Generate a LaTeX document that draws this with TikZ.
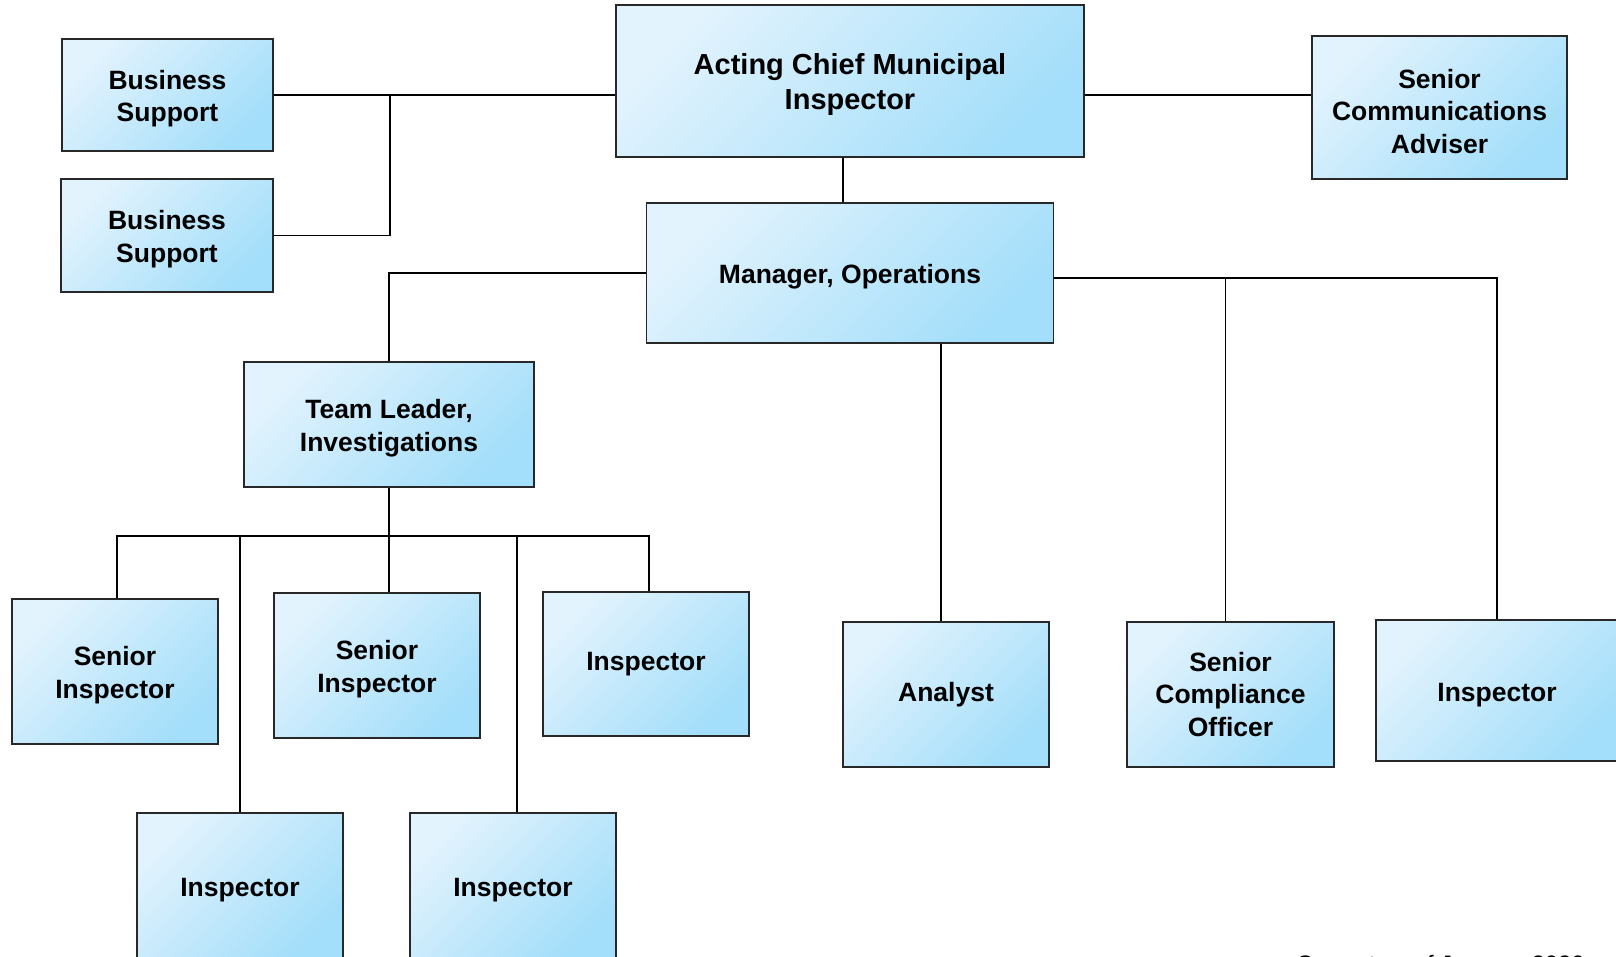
\documentclass[tikz,border=0pt]{standalone}
\usepackage{fontspec}
\setmainfont{Liberation Sans}
\usetikzlibrary{calc}
\definecolor{boxlight}{RGB}{226,243,253}
\definecolor{boxdark}{RGB}{163,222,250}
\definecolor{boxline}{RGB}{40,40,40}
% taller first line, so the text sits a little low in its box
\newcommand{\lowline}{\rule{0pt}{1em}}

\tikzset{
	orgbox/.style={draw=boxline, line width=1.2pt,
		top color=boxlight, bottom color=boxdark, shading angle=45,
		align=center, inner sep=0pt,
		font=\bfseries\fontsize{26.5}{32.5}\selectfont},
	link/.style={black, line width=1.2pt}
}

\begin{document}
\begin{tikzpicture}[x=1pt,y=-1pt]
	\useasboundingbox (0,0) rectangle (1616,957);

	% Top row
	\node[orgbox, minimum width=211pt, minimum height=112pt] (bsa) at (167.5,95) {\lowline Business\\Support};
	\node[orgbox, minimum width=212pt, minimum height=113pt] (bsb) at (167,235.5) {\lowline Business\\Support};
	\node[orgbox, minimum width=468pt, minimum height=152pt,
		font=\bfseries\fontsize{29}{35}\selectfont] (chief) at (850,81) {\lowline Acting Chief Municipal\\Inspector};
	\node[orgbox, minimum width=255pt, minimum height=143pt] (comm) at (1439.5,107.5) {\lowline Senior\\Communications\\Adviser};

	% Second level
	\node[orgbox, minimum width=407pt, minimum height=140pt] (mgr) at (850,273) {\lowline Manager, Operations};
	\node[orgbox, minimum width=290pt, minimum height=125pt] (tl) at (389,424.5) {\lowline Team Leader,\\Investigations};

	% Investigations team
	\node[orgbox, minimum width=206pt, minimum height=145pt] (sia) at (115,671.5) {\lowline Senior\\Inspector};
	\node[orgbox, minimum width=206pt, minimum height=145pt] (sib) at (377,665.5) {\lowline Senior\\Inspector};
	\node[orgbox, minimum width=206pt, minimum height=144pt] (insc) at (646,664) {Inspector};
	\node[orgbox, minimum width=206pt, minimum height=146pt] (insa) at (240,886) {\lowline Inspector};
	\node[orgbox, minimum width=206pt, minimum height=146pt] (insb) at (513,886) {\lowline Inspector};

	% Operations staff
	\node[orgbox, minimum width=206pt, minimum height=145pt] (an) at (946,694.5) {Analyst};
	\node[orgbox, minimum width=207pt, minimum height=145pt] (sco) at (1230.5,694.5) {Senior\\Compliance\\Officer};
	\node[orgbox, minimum width=242pt, minimum height=141pt] (insd) at (1497,690.5) {\lowline Inspector};

	% Staff lines
	\coordinate (staffx) at (390,0);
	\draw[link] (bsa.east) -- (bsa.east -| chief.west);
	\draw[link] (bsb.east) -| (staffx |- bsa.east);
	\draw[link] (chief.east |- bsa.east) -- (comm.west |- bsa.east);

	% Chief to manager
	\draw[link] ([xshift=-7pt]chief.south) -- ([xshift=-7pt]chief.south |- mgr.north);

	% Manager to team leader and staff
	\coordinate (opsbus) at (0,278);
	\draw[link] (mgr.west) -| (tl.north);
	\draw[link] (mgr.east |- opsbus) -| (insd.north);
	\draw[link] ([xshift=-5pt]sco.north) -- ([xshift=-5pt]sco.north |- opsbus);
	\draw[link] ([xshift=-5pt]an.north) -- ([xshift=-5pt]an.north |- mgr.south);

	% Team leader to inspectors
	\coordinate (teambus) at (0,536);
	\draw[link] (tl.south) -- (tl.south |- sib.north);
	\draw[link] ([xshift=2pt]sia.north) |- ([xshift=3pt]insc.north |- teambus) -- ([xshift=3pt]insc.north);
	\draw[link] (insa.north) -- (insa.north |- teambus);
	\draw[link] ([xshift=4pt]insb.north) -- ([xshift=4pt]insb.north |- teambus);

	% Date line, cut by the page edge
	\node[anchor=base west, inner sep=0pt, font=\fontsize{23.8}{28}\selectfont] (asof) at (1296,972) {Current as of January 2020};
\end{tikzpicture}
\end{document}
